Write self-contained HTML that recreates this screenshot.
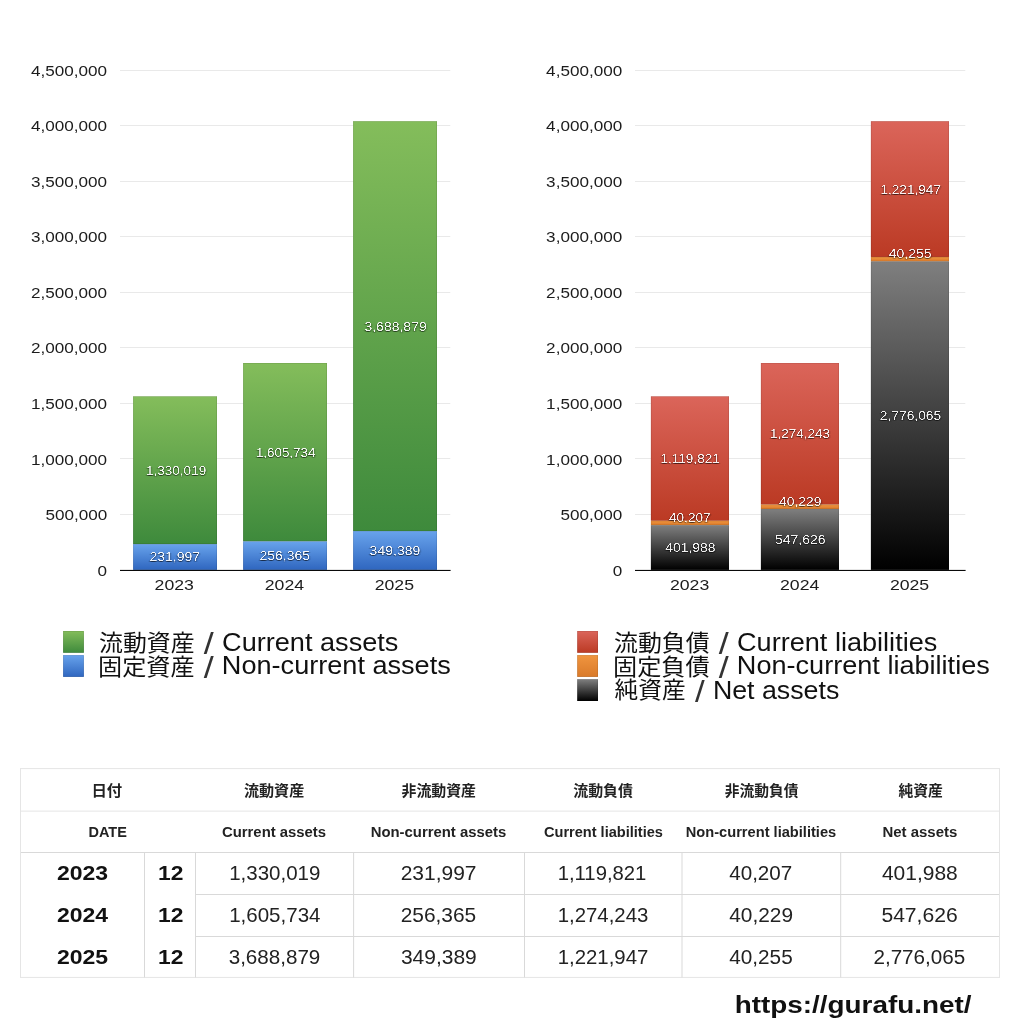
<!DOCTYPE html>
<html lang="ja"><head><meta charset="utf-8"><title>Balance sheet</title>
<style>
html,body{margin:0;padding:0;background:#fff}
svg{display:block}
.L{font-family:"Liberation Sans",sans-serif}
.J{font-family:"Liberation Sans","Noto Sans CJK JP",sans-serif}
.lb{filter:url(#sh)}
</style></head>
<body>
<svg width="1024" height="1024" viewBox="0 0 1024 1024">
<defs>
<linearGradient id="gG" x1="0" y1="0" x2="0" y2="1"><stop offset="0" stop-color="#84bd5b"/><stop offset="1" stop-color="#3e8a3c"/></linearGradient>
<linearGradient id="gB" x1="0" y1="0" x2="0" y2="1"><stop offset="0" stop-color="#68a3ec"/><stop offset="1" stop-color="#2f66bf"/></linearGradient>
<linearGradient id="gR" x1="0" y1="0" x2="0" y2="1"><stop offset="0" stop-color="#db655a"/><stop offset="1" stop-color="#bb3a24"/></linearGradient>
<linearGradient id="gO" x1="0" y1="0" x2="0" y2="1"><stop offset="0" stop-color="#f0953f"/><stop offset="1" stop-color="#d97a2a"/></linearGradient>
<linearGradient id="gK" x1="0" y1="0" x2="0" y2="1"><stop offset="0" stop-color="#7f7f7f"/><stop offset="1" stop-color="#000000"/></linearGradient>
<filter id="sh" x="-10%" y="-50%" width="120%" height="220%" color-interpolation-filters="sRGB">
<feGaussianBlur in="SourceAlpha" stdDeviation="0.5" result="b"/>
<feComponentTransfer in="b" result="thin"><feFuncA type="linear" slope="3" intercept="-1.2"/></feComponentTransfer>
<feFlood flood-color="#fff" flood-opacity="0.93"/><feComposite in2="thin" operator="in" result="txt"/>
<feGaussianBlur in="thin" stdDeviation="0.75" result="sb"/><feOffset in="sb" dy="1.1" result="so"/>
<feFlood flood-color="#000" flood-opacity="0.62"/><feComposite in2="so" operator="in" result="shadow"/>
<feMerge><feMergeNode in="shadow"/><feMergeNode in="txt"/></feMerge>
</filter>
</defs>
<rect width="1024" height="1024" fill="#fff"/>
<rect x="120" y="70" width="330.3" height="1" fill="#e9e9e9"/>
<rect x="120" y="125" width="330.3" height="1" fill="#e9e9e9"/>
<rect x="120" y="181" width="330.3" height="1" fill="#e9e9e9"/>
<rect x="120" y="236" width="330.3" height="1" fill="#e9e9e9"/>
<rect x="120" y="292" width="330.3" height="1" fill="#e9e9e9"/>
<rect x="120" y="347" width="330.3" height="1" fill="#e9e9e9"/>
<rect x="120" y="403" width="330.3" height="1" fill="#e9e9e9"/>
<rect x="120" y="458" width="330.3" height="1" fill="#e9e9e9"/>
<rect x="120" y="514" width="330.3" height="1" fill="#e9e9e9"/>
<rect x="635" y="70" width="330.3" height="1" fill="#e9e9e9"/>
<rect x="635" y="125" width="330.3" height="1" fill="#e9e9e9"/>
<rect x="635" y="181" width="330.3" height="1" fill="#e9e9e9"/>
<rect x="635" y="236" width="330.3" height="1" fill="#e9e9e9"/>
<rect x="635" y="292" width="330.3" height="1" fill="#e9e9e9"/>
<rect x="635" y="347" width="330.3" height="1" fill="#e9e9e9"/>
<rect x="635" y="403" width="330.3" height="1" fill="#e9e9e9"/>
<rect x="635" y="458" width="330.3" height="1" fill="#e9e9e9"/>
<rect x="635" y="514" width="330.3" height="1" fill="#e9e9e9"/>
<rect x="133.1" y="396.34" width="83.9" height="147.78" fill="url(#gG)"/>
<rect x="133.4" y="396.64" width="83.3" height="147.18" fill="none" stroke="#000" stroke-opacity="0.14" stroke-width="0.6"/>
<rect x="133.1" y="544.12" width="83.9" height="25.78" fill="url(#gB)"/>
<rect x="133.4" y="544.42" width="83.3" height="25.18" fill="none" stroke="#000" stroke-opacity="0.14" stroke-width="0.6"/>
<rect x="243.1" y="363" width="83.9" height="178.41" fill="url(#gG)"/>
<rect x="243.4" y="363.3" width="83.3" height="177.81" fill="none" stroke="#000" stroke-opacity="0.14" stroke-width="0.6"/>
<rect x="243.1" y="541.41" width="83.9" height="28.49" fill="url(#gB)"/>
<rect x="243.4" y="541.71" width="83.3" height="27.89" fill="none" stroke="#000" stroke-opacity="0.14" stroke-width="0.6"/>
<rect x="353.1" y="121.2" width="83.9" height="409.88" fill="url(#gG)"/>
<rect x="353.4" y="121.5" width="83.3" height="409.28" fill="none" stroke="#000" stroke-opacity="0.14" stroke-width="0.6"/>
<rect x="353.1" y="531.08" width="83.9" height="38.82" fill="url(#gB)"/>
<rect x="353.4" y="531.38" width="83.3" height="38.22" fill="none" stroke="#000" stroke-opacity="0.14" stroke-width="0.6"/>
<rect x="650.9" y="396.34" width="78.1" height="124.42" fill="url(#gR)"/>
<rect x="651.2" y="396.64" width="77.5" height="123.82" fill="none" stroke="#000" stroke-opacity="0.14" stroke-width="0.6"/>
<rect x="650.9" y="520.77" width="78.1" height="4.47" fill="url(#gO)"/>
<rect x="651.2" y="521.07" width="77.5" height="3.87" fill="none" stroke="#000" stroke-opacity="0.14" stroke-width="0.6"/>
<rect x="650.9" y="525.23" width="78.1" height="44.67" fill="url(#gK)"/>
<rect x="651.2" y="525.53" width="77.5" height="44.07" fill="none" stroke="#000" stroke-opacity="0.14" stroke-width="0.6"/>
<rect x="760.9" y="363" width="78.1" height="141.58" fill="url(#gR)"/>
<rect x="761.2" y="363.3" width="77.5" height="140.98" fill="none" stroke="#000" stroke-opacity="0.14" stroke-width="0.6"/>
<rect x="760.9" y="504.58" width="78.1" height="4.47" fill="url(#gO)"/>
<rect x="761.2" y="504.88" width="77.5" height="3.87" fill="none" stroke="#000" stroke-opacity="0.14" stroke-width="0.6"/>
<rect x="760.9" y="509.05" width="78.1" height="60.85" fill="url(#gK)"/>
<rect x="761.2" y="509.35" width="77.5" height="60.25" fill="none" stroke="#000" stroke-opacity="0.14" stroke-width="0.6"/>
<rect x="870.9" y="121.2" width="78.1" height="135.77" fill="url(#gR)"/>
<rect x="871.2" y="121.5" width="77.5" height="135.17" fill="none" stroke="#000" stroke-opacity="0.14" stroke-width="0.6"/>
<rect x="870.9" y="256.98" width="78.1" height="4.47" fill="url(#gO)"/>
<rect x="871.2" y="257.28" width="77.5" height="3.87" fill="none" stroke="#000" stroke-opacity="0.14" stroke-width="0.6"/>
<rect x="870.9" y="261.45" width="78.1" height="308.45" fill="url(#gK)"/>
<rect x="871.2" y="261.75" width="77.5" height="307.85" fill="none" stroke="#000" stroke-opacity="0.14" stroke-width="0.6"/>
<rect x="120" y="569.9" width="330.6" height="1.1" fill="#0a0a0a"/>
<rect x="635" y="569.9" width="330.6" height="1.1" fill="#0a0a0a"/>
<rect x="63.1" y="631" width="20.8" height="21.8" fill="url(#gG)"/>
<rect x="63.4" y="631.3" width="20.2" height="21.2" fill="none" stroke="#000" stroke-opacity="0.14" stroke-width="0.6"/>
<rect x="63.1" y="655.1" width="20.8" height="21.8" fill="url(#gB)"/>
<rect x="63.4" y="655.4" width="20.2" height="21.2" fill="none" stroke="#000" stroke-opacity="0.14" stroke-width="0.6"/>
<rect x="577.2" y="631" width="20.8" height="21.8" fill="url(#gR)"/>
<rect x="577.5" y="631.3" width="20.2" height="21.2" fill="none" stroke="#000" stroke-opacity="0.14" stroke-width="0.6"/>
<rect x="577.2" y="655.1" width="20.8" height="21.8" fill="url(#gO)"/>
<rect x="577.5" y="655.4" width="20.2" height="21.2" fill="none" stroke="#000" stroke-opacity="0.14" stroke-width="0.6"/>
<rect x="577.2" y="679.2" width="20.8" height="21.8" fill="url(#gK)"/>
<rect x="577.5" y="679.5" width="20.2" height="21.2" fill="none" stroke="#000" stroke-opacity="0.14" stroke-width="0.6"/>
<rect x="20" y="768.1" width="980" height="1" fill="#e5e5e5"/>
<rect x="20.5" y="810.6" width="979" height="1" fill="#e5e5e5"/>
<rect x="20.5" y="852" width="979" height="1" fill="#d9d9d9"/>
<rect x="20" y="976.9" width="980" height="1" fill="#e5e5e5"/>
<rect x="195.5" y="894" width="804" height="1" fill="#d9d9d9"/>
<rect x="195.5" y="936" width="804" height="1" fill="#d9d9d9"/>
<rect x="20" y="768.6" width="1" height="208.8" fill="#e5e5e5"/>
<rect x="999" y="768.6" width="1" height="208.8" fill="#e5e5e5"/>
<rect x="144" y="852.5" width="1" height="124.9" fill="#d9d9d9"/>
<rect x="195" y="852.5" width="1" height="124.9" fill="#d9d9d9"/>
<rect x="353.1" y="852.5" width="1" height="124.9" fill="#d9d9d9"/>
<rect x="524" y="852.5" width="1" height="124.9" fill="#d9d9d9"/>
<rect x="681.5" y="852.5" width="1" height="124.9" fill="#d9d9d9"/>
<rect x="840.2" y="852.5" width="1" height="124.9" fill="#d9d9d9"/>
<text class="L" transform="translate(31.02 75.65) scale(1.1281 1.0000)" font-size="15.16" fill="#1c1c1c">4,500,000</text>
<text class="L" transform="translate(31.02 131.21) scale(1.1281 1.0000)" font-size="15.16" fill="#1c1c1c">4,000,000</text>
<text class="L" transform="translate(31.02 186.76) scale(1.1281 1.0000)" font-size="15.16" fill="#1c1c1c">3,500,000</text>
<text class="L" transform="translate(31.02 242.32) scale(1.1281 1.0000)" font-size="15.16" fill="#1c1c1c">3,000,000</text>
<text class="L" transform="translate(31.02 297.87) scale(1.1281 1.0000)" font-size="15.16" fill="#1c1c1c">2,500,000</text>
<text class="L" transform="translate(31.02 353.43) scale(1.1281 1.0000)" font-size="15.16" fill="#1c1c1c">2,000,000</text>
<text class="L" transform="translate(31.02 408.98) scale(1.1281 1.0000)" font-size="15.16" fill="#1c1c1c">1,500,000</text>
<text class="L" transform="translate(31.02 464.54) scale(1.1281 1.0000)" font-size="15.16" fill="#1c1c1c">1,000,000</text>
<text class="L" transform="translate(45.4 520.09) scale(1.1281 1.0000)" font-size="15.16" fill="#1c1c1c">500,000</text>
<text class="L" transform="translate(97.58 575.65) scale(1.1281 1.0000)" font-size="15.16" fill="#1c1c1c">0</text>
<text class="L" transform="translate(546.12 75.65) scale(1.1281 1.0000)" font-size="15.16" fill="#1c1c1c">4,500,000</text>
<text class="L" transform="translate(546.12 131.21) scale(1.1281 1.0000)" font-size="15.16" fill="#1c1c1c">4,000,000</text>
<text class="L" transform="translate(546.12 186.76) scale(1.1281 1.0000)" font-size="15.16" fill="#1c1c1c">3,500,000</text>
<text class="L" transform="translate(546.12 242.32) scale(1.1281 1.0000)" font-size="15.16" fill="#1c1c1c">3,000,000</text>
<text class="L" transform="translate(546.12 297.87) scale(1.1281 1.0000)" font-size="15.16" fill="#1c1c1c">2,500,000</text>
<text class="L" transform="translate(546.12 353.43) scale(1.1281 1.0000)" font-size="15.16" fill="#1c1c1c">2,000,000</text>
<text class="L" transform="translate(546.12 408.98) scale(1.1281 1.0000)" font-size="15.16" fill="#1c1c1c">1,500,000</text>
<text class="L" transform="translate(546.12 464.54) scale(1.1281 1.0000)" font-size="15.16" fill="#1c1c1c">1,000,000</text>
<text class="L" transform="translate(560.5 520.09) scale(1.1281 1.0000)" font-size="15.16" fill="#1c1c1c">500,000</text>
<text class="L" transform="translate(612.68 575.65) scale(1.1281 1.0000)" font-size="15.16" fill="#1c1c1c">0</text>
<text class="L" transform="translate(154.58 589.65) scale(1.1573 1.0000)" font-size="15.29" fill="#1c1c1c">2023</text>
<text class="L" transform="translate(264.74 589.65) scale(1.1573 1.0000)" font-size="15.29" fill="#1c1c1c">2024</text>
<text class="L" transform="translate(374.68 589.65) scale(1.1573 1.0000)" font-size="15.29" fill="#1c1c1c">2025</text>
<text class="L" transform="translate(669.93 589.65) scale(1.1573 1.0000)" font-size="15.29" fill="#1c1c1c">2023</text>
<text class="L" transform="translate(780.04 589.65) scale(1.1573 1.0000)" font-size="15.29" fill="#1c1c1c">2024</text>
<text class="L" transform="translate(889.88 589.65) scale(1.1573 1.0000)" font-size="15.29" fill="#1c1c1c">2025</text>
<text class="L lb" transform="translate(145.91 474.66) scale(1.1190 1.0000)" font-size="12.12" fill="#fff">1,330,019</text>
<text class="L lb" transform="translate(149.42 561.44) scale(1.1579 1.0000)" font-size="12.12" fill="#fff">231,997</text>
<text class="L lb" transform="translate(255.92 456.63) scale(1.1043 1.0000)" font-size="12.12" fill="#fff">1,605,734</text>
<text class="L lb" transform="translate(259.42 560.08) scale(1.1579 1.0000)" font-size="12.12" fill="#fff">256,365</text>
<text class="L lb" transform="translate(364.42 330.57) scale(1.1564 1.0000)" font-size="12.12" fill="#fff">3,688,879</text>
<text class="L lb" transform="translate(369.62 554.91) scale(1.1579 1.0000)" font-size="12.12" fill="#fff">349,389</text>
<text class="L lb" transform="translate(660.41 462.98) scale(1.1208 1.0000)" font-size="12.12" fill="#fff">1,119,821</text>
<text class="L lb" transform="translate(668.97 522.23) scale(1.1241 1.0000)" font-size="12.12" fill="#fff">40,207</text>
<text class="L lb" transform="translate(665.21 551.99) scale(1.1512 1.0000)" font-size="12.12" fill="#fff">401,988</text>
<text class="L lb" transform="translate(769.91 438.22) scale(1.1137 1.0000)" font-size="12.12" fill="#fff">1,274,243</text>
<text class="L lb" transform="translate(778.96 506.02) scale(1.1448 1.0000)" font-size="12.12" fill="#fff">40,229</text>
<text class="L lb" transform="translate(774.92 543.9) scale(1.1579 1.0000)" font-size="12.12" fill="#fff">547,626</text>
<text class="L lb" transform="translate(880.46 193.51) scale(1.1238 1.0000)" font-size="12.12" fill="#fff">1,221,947</text>
<text class="L lb" transform="translate(888.71 257.82) scale(1.1559 1.0000)" font-size="12.12" fill="#fff">40,255</text>
<text class="L lb" transform="translate(879.83 420.1) scale(1.1377 1.0000)" font-size="12.12" fill="#fff">2,776,065</text>
<text class="J" transform="translate(99 650.5) scale(0.9963 0.9483)" font-size="24" fill="#111">流動資産</text>
<text class="L" transform="translate(203.75 653.9) scale(1.2121 0.9955)" font-size="29.6" fill="#333">/</text>
<text class="L" transform="translate(222.05 650.7) scale(1.0764 1.0000)" font-size="25.2" fill="#111">Current assets</text>
<text class="J" transform="translate(97.99 674.5) scale(1.0070 0.9483)" font-size="24" fill="#111">固定資産</text>
<text class="L" transform="translate(203.75 677.9) scale(1.2121 1.0068)" font-size="29.6" fill="#333">/</text>
<text class="L" transform="translate(221.85 674.4) scale(1.0762 1.0000)" font-size="25.2" fill="#111">Non-current assets</text>
<text class="J" transform="translate(614 650.5) scale(0.9973 0.9483)" font-size="24" fill="#111">流動負債</text>
<text class="L" transform="translate(718.75 653.9) scale(1.2121 0.9955)" font-size="29.6" fill="#333">/</text>
<text class="L" transform="translate(737.06 650.7) scale(1.0753 1.0000)" font-size="25.2" fill="#111">Current liabilities</text>
<text class="J" transform="translate(612.98 674.5) scale(1.0081 0.9483)" font-size="24" fill="#111">固定負債</text>
<text class="L" transform="translate(718.75 677.9) scale(1.2121 1.0068)" font-size="29.6" fill="#333">/</text>
<text class="L" transform="translate(736.85 674.4) scale(1.0753 1.0000)" font-size="25.2" fill="#111">Non-current liabilities</text>
<text class="J" transform="translate(614.51 698.4) scale(0.9879 0.9483)" font-size="24" fill="#111">純資産</text>
<text class="L" transform="translate(695 701.8) scale(1.1818 0.9909)" font-size="29.6" fill="#333">/</text>
<text class="L" transform="translate(712.88 698.5) scale(1.0625 1.0000)" font-size="25.2" fill="#111">Net assets</text>
<text class="J" transform="translate(91.44 796.23) scale(1.0275 1.0000)" font-size="15" font-weight="700" fill="#222">日付</text>
<text class="J" transform="translate(244 796.23) scale(1.0042 1.0000)" font-size="15" font-weight="700" fill="#222">流動資産</text>
<text class="J" transform="translate(401.5 796.23) scale(0.9933 1.0000)" font-size="15" font-weight="700" fill="#222">非流動資産</text>
<text class="J" transform="translate(573.25 796.23) scale(0.9958 1.0000)" font-size="15" font-weight="700" fill="#222">流動負債</text>
<text class="J" transform="translate(724.75 796.23) scale(0.9832 1.0000)" font-size="15" font-weight="700" fill="#222">非流動負債</text>
<text class="J" transform="translate(898.45 796.23) scale(0.9898 1.0000)" font-size="15" font-weight="700" fill="#222">純資産</text>
<text class="L" transform="translate(88.49 837.1) scale(1.0138 1.0000)" font-size="14.3" font-weight="700" fill="#222">DATE</text>
<text class="L" transform="translate(221.98 837.1) scale(1.0404 1.0000)" font-size="14.3" font-weight="700" fill="#222">Current assets</text>
<text class="L" transform="translate(370.71 837.1) scale(1.0408 1.0000)" font-size="14.3" font-weight="700" fill="#222">Non-current assets</text>
<text class="L" transform="translate(543.99 837.1) scale(1.0194 1.0000)" font-size="14.3" font-weight="700" fill="#222">Current liabilities</text>
<text class="L" transform="translate(685.73 837.1) scale(1.0241 1.0000)" font-size="14.3" font-weight="700" fill="#222">Non-current liabilities</text>
<text class="L" transform="translate(882.45 837.1) scale(1.0457 1.0000)" font-size="14.3" font-weight="700" fill="#222">Net assets</text>
<text class="L" transform="translate(56.9 880.1) scale(1.1905 1.0000)" font-size="19.35" font-weight="700" fill="#111">2023</text>
<text class="L" transform="translate(158.03 880.1) scale(1.1795 1.0000)" font-size="19.35" font-weight="700" fill="#111">12</text>
<text class="L" transform="translate(229.16 880.1) scale(1.0597 1.0000)" font-size="19.35" fill="#222">1,330,019</text>
<text class="L" transform="translate(400.67 880.1) scale(1.0846 1.0000)" font-size="19.35" fill="#222">231,997</text>
<text class="L" transform="translate(557.68 880.1) scale(1.0486 1.0000)" font-size="19.35" fill="#222">1,119,821</text>
<text class="L" transform="translate(729.23 880.1) scale(1.0647 1.0000)" font-size="19.35" fill="#222">40,207</text>
<text class="L" transform="translate(881.93 880.1) scale(1.0841 1.0000)" font-size="19.35" fill="#222">401,988</text>
<text class="L" transform="translate(56.91 922.1) scale(1.1882 1.0000)" font-size="19.35" font-weight="700" fill="#111">2024</text>
<text class="L" transform="translate(158.03 922.1) scale(1.1795 1.0000)" font-size="19.35" font-weight="700" fill="#111">12</text>
<text class="L" transform="translate(229.16 922.1) scale(1.0613 1.0000)" font-size="19.35" fill="#222">1,605,734</text>
<text class="L" transform="translate(400.67 922.1) scale(1.0806 1.0000)" font-size="19.35" fill="#222">256,365</text>
<text class="L" transform="translate(557.67 922.1) scale(1.0537 1.0000)" font-size="19.35" fill="#222">1,274,243</text>
<text class="L" transform="translate(729.23 922.1) scale(1.0776 1.0000)" font-size="19.35" fill="#222">40,229</text>
<text class="L" transform="translate(881.38 922.1) scale(1.0920 1.0000)" font-size="19.35" fill="#222">547,626</text>
<text class="L" transform="translate(56.9 964.3) scale(1.1905 1.0000)" font-size="19.35" font-weight="700" fill="#111">2025</text>
<text class="L" transform="translate(158.03 964.3) scale(1.1795 1.0000)" font-size="19.35" font-weight="700" fill="#111">12</text>
<text class="L" transform="translate(228.7 964.3) scale(1.0651 1.0000)" font-size="19.35" fill="#222">3,688,879</text>
<text class="L" transform="translate(400.94 964.3) scale(1.0842 1.0000)" font-size="19.35" fill="#222">349,389</text>
<text class="L" transform="translate(557.67 964.3) scale(1.0537 1.0000)" font-size="19.35" fill="#222">1,221,947</text>
<text class="L" transform="translate(729.23 964.3) scale(1.0730 1.0000)" font-size="19.35" fill="#222">40,255</text>
<text class="L" transform="translate(873.43 964.3) scale(1.0671 1.0000)" font-size="19.35" fill="#222">2,776,065</text>
<text class="L" transform="translate(734.72 1013) scale(1.1849 1.0000)" font-size="23.53" font-weight="700" fill="#111">https://gurafu.net/</text>
</svg>
</body></html>
